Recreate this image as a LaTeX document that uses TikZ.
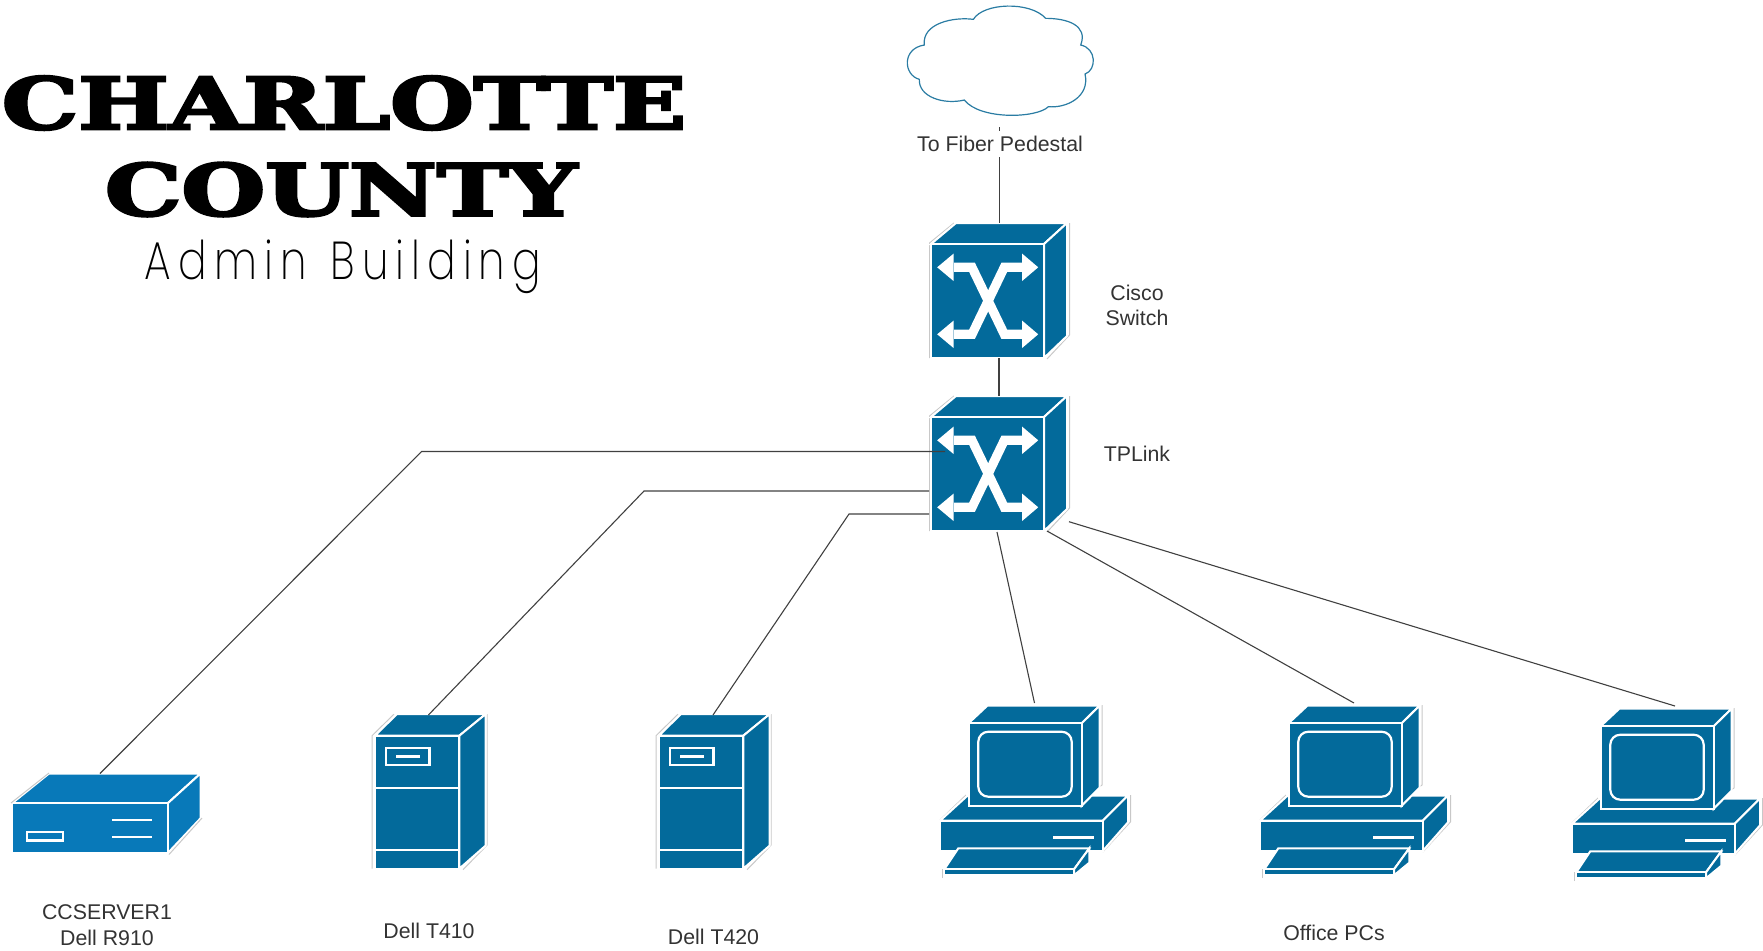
\documentclass[tikz,border=0pt]{standalone}
\usepackage{fontspec}
\usepackage{graphicx}
\setmainfont{Liberation Sans}
\newfontfamily\ttlfont[BoldFeatures={FakeBold=3.5}]{DejaVu Serif}
\newfontfamily\admfont{Poppins ExtraLight}
\definecolor{devblue}{HTML}{036A9B}
\definecolor{srvblue}{HTML}{0879B9}
\definecolor{txtgray}{HTML}{333333}
\definecolor{edgegray}{HTML}{C8C8C8}
\definecolor{cloudline}{HTML}{2A7CA3}
\tikzset{
  face/.style={fill=devblue,draw=white,line width=1pt,line join=miter},
  srvface/.style={fill=srvblue,draw=white,line width=1pt,line join=miter},
  whiteline/.style={draw=white,line width=1.1pt},
  ghost/.style={draw=edgegray,line width=.5pt},
  conn/.style={draw=black!75,line width=.55pt},
  lbl/.style={text=txtgray,font=\fontsize{10.65}{12.7}\selectfont,align=center,inner sep=0pt},
  switchicon/.pic={
    \draw[ghost] (-2.5,114)--(-2.5,-1)--(22,-21) (137.5,-21)--(137.5,91)--(115,115);
    \path[face] (-1,0)--(24,-21)--(135,-21)--(112,0)--cycle;
    \path[face] (112,0)--(135,-21)--(135,92)--(112,114)--cycle;
    \path[face] (-1,0) rectangle (112,114);
    \draw[draw=white,line width=4.6pt,line join=miter] (22,23.3)--(40,23.3)--(72.3,90.3)--(90,90.3);
    \draw[draw=white,line width=4.6pt,line join=miter] (90,23.3)--(72.3,23.3)--(40,90.3)--(22,90.3);
    \fill[white] (5.2,23.3)--(21.7,9.5)--(21.7,37.1)--cycle;
    \fill[white] (5.2,90.3)--(21.7,76.5)--(21.7,104.1)--cycle;
    \fill[white] (106.2,23.3)--(90,9.5)--(90,37.1)--cycle;
    \fill[white] (106.2,90.3)--(90,76.5)--(90,104.1)--cycle;
  },
  towericon/.pic={
    \draw[ghost] (-3,133)--(-3,0)--(19,-21.5) (112,-21.5)--(112,109.5)--(88,134);
    \path[face] (0,0)--(21.7,-21.5)--(110.5,-21.5)--(84.3,0)--cycle;
    \path[face] (84.3,0)--(110.5,-21.5)--(110.5,110)--(84.3,133)--cycle;
    \path[face] (0,0) rectangle (84.3,133);
    \draw[whiteline] (0,52.6)--(84.3,52.6) (0,114.3)--(84.3,114.3);
    \draw[draw=white,line width=1.2pt] (10.7,12) rectangle (54.3,29.3);
    \draw[draw=white,line width=1.2pt] (21,20.6)--(44.7,20.6);
  },
  pcicon/.pic={
    \draw[ghost] (940,820)--(966,795) (1102.7,852)--(1128.5,824)--(1130.5,822)--(1130.5,795) (1099,787)--(1102,785)--(1102,705);
    \path[face] (940,820.7)--(967.7,795.5)--(1128,795.5)--(1102.7,820.7)--cycle;
    \path[face] (1102.7,820.7)--(1128,795.5)--(1128,822.3)--(1102.7,851)--cycle;
    \path[face] (940,820.7) rectangle (1102.7,851);
    \draw[draw=white,line width=1.5pt] (1053.3,837)--(1093.7,837);
    \path[face] (968.5,723.3)--(987.3,705.7)--(1099.5,705.7)--(1081.7,723.3)--cycle;
    \path[face] (1081.7,723.3)--(1099.5,705.7)--(1099.5,787.7)--(1081.7,805.7)--cycle;
    \path[face] (968.5,723.3) rectangle (1081.7,805.7);
    \draw[whiteline,rounded corners=5pt] (978.3,731.7) rectangle (1071.7,796.7);
    \path[face] (958.3,848.3)--(1089.3,848.3)--(1074,869.3)--(944.3,869.3)--cycle;
    \path[face] (1074,869.3)--(1089.3,848.3)--(1089.3,862.7)--(1074,875.3)--cycle;
    \path[face] (944.3,869.3) rectangle (1074,875.3);
    \draw[ghost] (942.5,878)--(942.5,869);
  },
}
\begin{document}
\begin{tikzpicture}[x=0.5pt,y=-0.5pt]
\useasboundingbox (0,0) rectangle (1763,950);

% title
\node[inner sep=0pt] (titleA) at (344,103) {\resizebox{342pt}{26.5pt}{\ttlfont\bfseries CHARLOTTE}};
\node[inner sep=0pt] (titleB) at (341,189.5) {\resizebox{236pt}{26.5pt}{\ttlfont\bfseries COUNTY}};
\node[inner sep=0pt,anchor=base] (titleC) at (343,279) {\resizebox{198pt}{19.8pt}{\admfont A\,d\,m\,i\,n\ \ B\,u\,i\,l\,d\,i\,n\,g}};

% cloud
\begin{scope}[shift={(880,0)},x=0.1667pt,y=-0.1667pt]
\draw[draw=cloudline,line width=.6pt,fill=white] (280,58)
 .. controls (310,8) and (450,3) .. (497,55)
 .. controls (560,55) and (625,75) .. (602,135)
 .. controls (650,145) and (650,210) .. (615,222)
 .. controls (630,290) and (560,325) .. (505,320)
 .. controls (470,355) and (300,360) .. (253,300)
 .. controls (190,315) and (115,290) .. (118,238)
 .. controls (70,225) and (65,145) .. (133,135)
 .. controls (125,70) and (220,50) .. (280,58) -- cycle;
\end{scope}
\node[inner sep=0pt,minimum size=0pt] (cloud) at (1000,61) {};

% devices
\pic at (932,244) {switchicon};
\pic at (932,417) {switchicon};
\node[inner sep=0pt,minimum width=56pt,minimum height=56.5pt] (sw1) at (988,300.5) {};
\node[inner sep=0pt,minimum width=56pt,minimum height=56.5pt] (sw2) at (988,473.5) {};

% server
\path[srvface] (12,803.3)--(49,773.5)--(200.5,773.5)--(167.7,803.3)--cycle;
\path[srvface] (167.7,803.3)--(200.5,773.5)--(200.5,818.3)--(167.7,853.2)--cycle;
\path[srvface] (12,803.3) rectangle (167.7,853.2);
\draw[ghost] (11,803)--(49,773) (202,818)--(169,854.5);
\draw[draw=white,line width=1.2pt] (26.7,831.7) rectangle (62.7,840.3);
\draw[whiteline] (112.3,820)--(152,820) (112.3,837)--(152,837);
\node[inner sep=0pt,minimum width=77.5pt,minimum height=24.7pt] (server) at (90,828) {};

\pic at (375,735.7) {towericon};
\pic at (659,735.7) {towericon};
\node[inner sep=0pt,minimum width=42pt,minimum height=66pt] (t410) at (417,801.7) {};
\node[inner sep=0pt,minimum width=42pt,minimum height=66pt] (t420) at (701,801.7) {};

\pic at (0,0) {pcicon};
\pic at (320,0) {pcicon};
\pic at (632,3) {pcicon};
\node[inner sep=0pt,minimum width=56pt,minimum height=41pt] (pc1) at (1025,764) {};
\node[inner sep=0pt,minimum width=56pt,minimum height=41pt] (pc2) at (1345,764) {};
\node[inner sep=0pt,minimum width=56pt,minimum height=41pt] (pc3) at (1657,767) {};

% connector ends
\coordinate (cloudEnd) at (999.5,127);
\coordinate (sw1top) at (999.5,223);
\coordinate (sw1bot) at (999,358);
\coordinate (sw2top) at (999,396);
\coordinate (a1) at (945,451.5);
\coordinate (a2) at (421.6,451.5);
\coordinate (a3) at (100,773.5);
\coordinate (b1) at (929,491);
\coordinate (b2) at (644,491);
\coordinate (b3) at (428.4,715);
\coordinate (c1) at (929,514);
\coordinate (c2) at (849,514);
\coordinate (c3) at (713,715);
\coordinate (d1) at (997,532);
\coordinate (d2) at (1034.5,703);
\coordinate (e1) at (1047,531);
\coordinate (e2) at (1354,703);
\coordinate (f1) at (1069,521.7);
\coordinate (f2) at (1675,706);

\draw[conn] (cloudEnd)--(sw1top);
\draw[conn] (sw1bot)--(sw2top);
\draw[conn] (a1)--(a2)--(a3);
\draw[conn] (b1)--(b2)--(b3);
\draw[conn] (c1)--(c2)--(c3);
\draw[conn] (d1)--(d2);
\draw[conn] (e1)--(e2);
\draw[conn] (f1)--(f2);

% labels
\node[lbl,fill=white,minimum height=13pt] (lfiber) at (1000,143.5) {To Fiber Pedestal};
\node[lbl] (lcisco) at (1137,305.5) {Cisco\\Switch};
\node[lbl] (ltp) at (1137,453.5) {TPLink};
\node[lbl] (lsrv) at (107,925) {CCSERVER1\\Dell R910};
\node[lbl] (l410) at (429,931) {Dell T410};
\node[lbl] (l420) at (713.5,937) {Dell T420};
\node[lbl] (loff) at (1334,932.5) {Office PCs};
\end{tikzpicture}
\end{document}
